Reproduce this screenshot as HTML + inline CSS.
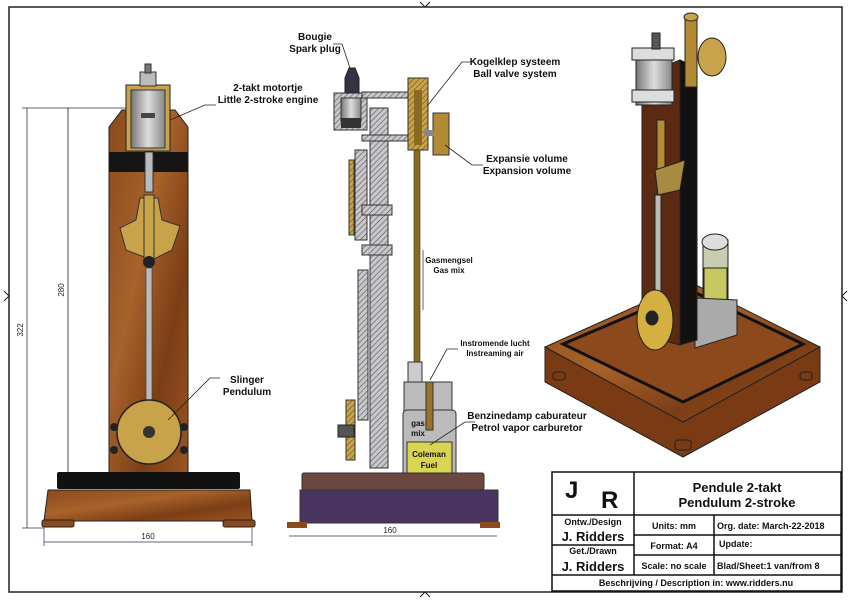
<!DOCTYPE html>
<html><head><meta charset="utf-8"><style>
html,body{margin:0;padding:0;background:#fff;}
svg{display:block;font-family:"Liberation Sans",sans-serif;}
.l{font-weight:bold;font-size:10px;fill:#111;}
.s{font-weight:bold;font-size:8px;fill:#111;}
.d{font-size:8px;fill:#222;}
</style></head><body>
<svg width="850" height="600" viewBox="0 0 850 600" xmlns="http://www.w3.org/2000/svg">
<defs>
<linearGradient id="wood" x1="0" y1="0" x2="1" y2="1">
<stop offset="0" stop-color="#8a4a1c"/><stop offset="0.4" stop-color="#a8622a"/><stop offset="0.7" stop-color="#7c3e16"/><stop offset="1" stop-color="#9a5522"/></linearGradient>
<linearGradient id="steel" x1="0" y1="0" x2="1" y2="0">
<stop offset="0" stop-color="#777"/><stop offset="0.5" stop-color="#ddd"/><stop offset="1" stop-color="#888"/></linearGradient>
<pattern id="hatch" width="4" height="4" patternUnits="userSpaceOnUse" patternTransform="rotate(45)">
<rect width="4" height="4" fill="#c8c8cc"/><line x1="0" y1="0" x2="0" y2="4" stroke="#555" stroke-width="1.2"/></pattern>
<pattern id="hatchg" width="4" height="4" patternUnits="userSpaceOnUse" patternTransform="rotate(45)">
<rect width="4" height="4" fill="#c9a34a"/><line x1="0" y1="0" x2="0" y2="4" stroke="#6b5016" stroke-width="1.2"/></pattern>
</defs>
<rect x="9" y="7" width="833" height="585" fill="none" stroke="#222" stroke-width="1.5"/>
<path d="M420 2 L425 7 L430 2 M420 597 L425 592 L430 597 M4 291 L9 296 L4 301 M847 291 L842 296 L847 301" fill="none" stroke="#222"/>

<!-- LEFT VIEW -->
<g>
<line x1="22" y1="108" x2="126" y2="108" stroke="#335" stroke-width="0.7"/>
<line x1="22" y1="528" x2="44" y2="528" stroke="#335" stroke-width="0.7"/>
<line x1="27" y1="108" x2="27" y2="528" stroke="#335" stroke-width="0.8"/>
<line x1="68" y1="108" x2="68" y2="472" stroke="#222" stroke-width="0.8"/>
<text class="d" transform="translate(23,330) rotate(-90)" text-anchor="middle">322</text>
<text class="d" transform="translate(64,290) rotate(-90)" text-anchor="middle">280</text>
<line x1="44" y1="542" x2="252" y2="542" stroke="#335" stroke-width="0.8"/>
<line x1="44" y1="528" x2="44" y2="546" stroke="#335" stroke-width="0.7"/>
<line x1="252" y1="528" x2="252" y2="546" stroke="#335" stroke-width="0.7"/>
<text class="d" x="148" y="539" text-anchor="middle">160</text>
<polygon points="109,127 122,110 175,110 188,127 188,474 109,474" fill="url(#wood)" stroke="#222"/>
<rect x="109" y="152" width="79" height="20" fill="#151515"/>
<rect x="126" y="85" width="44" height="66" fill="#c9a34a" stroke="#222"/>
<rect x="131" y="90" width="34" height="58" fill="url(#steel)" stroke="#333"/>
<rect x="141" y="113" width="14" height="5" fill="#444"/>
<rect x="140" y="72" width="16" height="14" fill="#bbb" stroke="#333"/>
<rect x="145" y="64" width="6" height="9" fill="#777" stroke="#333"/>
<rect x="145" y="152" width="8" height="40" fill="#bbb" stroke="#333"/>
<polygon points="140,198 158,198 162,220 180,226 172,250 152,260 126,250 120,228 136,220" fill="#c9a34a" stroke="#333"/>
<rect x="144" y="195" width="10" height="65" fill="#c9a34a" stroke="#333"/>
<circle cx="149" cy="262" r="6" fill="#222"/>
<rect x="146" y="268" width="6" height="135" fill="#bbb" stroke="#444" stroke-width="0.7"/>
<circle cx="149" cy="432" r="32" fill="#c9a34a" stroke="#222" stroke-width="1.5"/>
<circle cx="149" cy="432" r="6" fill="#333"/>
<circle cx="114" cy="427" r="4" fill="#222"/><circle cx="184" cy="427" r="4" fill="#222"/>
<circle cx="114" cy="450" r="4" fill="#222"/><circle cx="184" cy="450" r="4" fill="#222"/>
<rect x="57" y="472" width="183" height="17" fill="#111" rx="2"/>
<polygon points="48,490 250,490 252,521 44,521" fill="url(#wood)" stroke="#222"/>
<rect x="42" y="520" width="32" height="7" fill="#8a4a1c" stroke="#222" rx="2"/>
<rect x="223" y="520" width="32" height="7" fill="#8a4a1c" stroke="#222" rx="2"/>
<text class="l" x="268" y="91" text-anchor="middle">2-takt motortje</text>
<text class="l" x="268" y="103" text-anchor="middle">Little 2-stroke engine</text>
<polyline points="170,120 205,105 216,105" fill="none" stroke="#222" stroke-width="0.8"/>
<text class="l" x="247" y="383" text-anchor="middle">Slinger</text>
<text class="l" x="247" y="395" text-anchor="middle">Pendulum</text>
<polyline points="168,420 210,378 220,378" fill="none" stroke="#222" stroke-width="0.8"/>
</g>

<!-- MIDDLE VIEW -->
<g>
<rect x="370" y="108" width="18" height="360" fill="url(#hatch)" stroke="#333"/>
<rect x="355" y="150" width="12" height="90" fill="url(#hatch)" stroke="#333"/>
<rect x="358" y="270" width="10" height="150" fill="url(#hatch)" stroke="#333"/>
<rect x="349" y="160" width="5" height="75" fill="url(#hatchg)" stroke="#333"/>
<rect x="362" y="205" width="30" height="10" fill="url(#hatch)" stroke="#333"/>
<rect x="362" y="245" width="30" height="10" fill="url(#hatch)" stroke="#333"/>
<rect x="346" y="400" width="9" height="60" fill="url(#hatchg)" stroke="#333"/>
<rect x="338" y="425" width="16" height="12" fill="#555" stroke="#222"/>
<rect x="334" y="93" width="33" height="37" fill="url(#hatch)" stroke="#333"/>
<rect x="341" y="98" width="20" height="24" fill="url(#steel)" stroke="#333"/>
<rect x="341" y="118" width="20" height="10" fill="#333"/>
<polygon points="345,93 345,78 349,68 355,68 359,78 359,93" fill="#334" stroke="#222"/>
<rect x="362" y="92" width="50" height="6" fill="url(#hatch)" stroke="#333"/>
<rect x="362" y="135" width="50" height="6" fill="url(#hatch)" stroke="#333"/>
<rect x="408" y="78" width="20" height="72" fill="url(#hatchg)" stroke="#333"/>
<rect x="414" y="90" width="8" height="55" fill="#8a6a20"/>
<rect x="433" y="113" width="16" height="42" fill="#b58a35" stroke="#333"/>
<rect x="424" y="130" width="10" height="6" fill="#888"/>
<rect x="414" y="150" width="6" height="230" fill="#8a6a20" stroke="#333" stroke-width="0.6"/>
<line x1="423" y1="250" x2="423" y2="310" stroke="#222" stroke-width="0.7"/>
<rect x="404" y="382" width="48" height="30" fill="#bbb" stroke="#333"/>
<rect x="408" y="362" width="14" height="20" fill="#ccc" stroke="#333"/>
<rect x="403" y="410" width="53" height="80" fill="#bbb" stroke="#333" rx="4"/>
<rect x="407" y="442" width="45" height="46" fill="#d9d552" stroke="#333"/>
<rect x="426" y="382" width="7" height="48" fill="#9a7328" stroke="#333"/>
<text class="s" x="418" y="426" text-anchor="middle">gas</text>
<text class="s" x="418" y="436" text-anchor="middle">mix</text>
<text class="s" x="429" y="457" text-anchor="middle">Coleman</text>
<text class="s" x="429" y="468" text-anchor="middle">Fuel</text>
<rect x="302" y="473" width="182" height="17" fill="#6b4740" stroke="#333" rx="2"/>
<rect x="300" y="490" width="198" height="33" fill="#4a3560" stroke="#333"/>
<rect x="287" y="522" width="20" height="6" fill="#8a4a1c"/>
<rect x="480" y="522" width="20" height="6" fill="#8a4a1c"/>
<line x1="289" y1="536" x2="497" y2="536" stroke="#335" stroke-width="0.8"/>
<text class="d" x="390" y="533" text-anchor="middle">160</text>
<text class="l" x="315" y="40" text-anchor="middle">Bougie</text>
<text class="l" x="315" y="52" text-anchor="middle">Spark plug</text>
<polyline points="333,44 342,44 350,68" fill="none" stroke="#222" stroke-width="0.8"/>
<text class="l" x="515" y="65" text-anchor="middle">Kogelklep systeem</text>
<text class="l" x="515" y="77" text-anchor="middle">Ball valve system</text>
<polyline points="474,62 462,62 428,105" fill="none" stroke="#222" stroke-width="0.8"/>
<text class="l" x="527" y="162" text-anchor="middle">Expansie volume</text>
<text class="l" x="527" y="174" text-anchor="middle">Expansion volume</text>
<polyline points="483,165 472,165 445,145" fill="none" stroke="#222" stroke-width="0.8"/>
<text class="s" x="449" y="263" text-anchor="middle">Gasmengsel</text>
<text class="s" x="449" y="273" text-anchor="middle">Gas mix</text>
<text class="s" x="495" y="346" text-anchor="middle">Instromende lucht</text>
<text class="s" x="495" y="356" text-anchor="middle">Instreaming air</text>
<polyline points="458,349 447,349 430,380" fill="none" stroke="#222" stroke-width="0.8"/>
<text class="l" x="527" y="419" text-anchor="middle">Benzinedamp caburateur</text>
<text class="l" x="527" y="431" text-anchor="middle">Petrol vapor carburetor</text>
<polyline points="475,422 465,422 430,445" fill="none" stroke="#222" stroke-width="0.8"/>
</g>

<!-- RIGHT ISO VIEW -->
<g stroke="#222">
<polygon points="545,347 683,422 820,347 820,382 683,457 545,382" fill="#7a3a14"/>
<polygon points="545,347 690,282 820,347 683,422" fill="url(#wood)"/>
<polygon points="563,344 690,290 803,344 683,402" fill="#8c4a1c" stroke="#111" stroke-width="3"/>
<rect x="675" y="440" width="16" height="10" fill="#7a3a14" rx="3"/>
<rect x="553" y="372" width="12" height="8" fill="#7a3a14" rx="3"/>
<rect x="800" y="372" width="12" height="8" fill="#7a3a14" rx="3"/>
<rect x="703" y="240" width="25" height="60" fill="#c8ccb0"/>
<ellipse cx="715" cy="242" rx="13" ry="8" fill="#ddd"/>
<rect x="704" y="268" width="23" height="36" fill="#c8c860"/>
<polygon points="695,298 737,300 737,335 695,348" fill="#aaa"/>
<polygon points="642,75 680,60 680,345 642,335" fill="#5c2a12"/>
<polygon points="680,60 697,68 697,340 680,345" fill="#111"/>
<rect x="636" y="55" width="36" height="50" fill="url(#steel)"/>
<rect x="632" y="48" width="42" height="12" fill="#ddd"/>
<rect x="632" y="90" width="42" height="12" fill="#ddd"/>
<rect x="652" y="33" width="8" height="16" fill="#555"/>
<rect x="685" y="17" width="12" height="70" fill="#b58a35"/>
<ellipse cx="691" cy="17" rx="7" ry="4" fill="#c9a34a"/>
<ellipse cx="712" cy="57" rx="14" ry="19" fill="#c9a34a"/>
<rect x="657" y="120" width="8" height="70" fill="#b58a35"/>
<polygon points="655,170 685,160 680,190 658,195" fill="#a88a40"/>
<rect x="655" y="195" width="6" height="110" fill="#bbb"/>
<ellipse cx="655" cy="320" rx="18" ry="30" fill="#d4b040"/>
<ellipse cx="652" cy="318" rx="6" ry="7" fill="#222"/>
</g>

<!-- TITLE BLOCK -->
<g stroke="#111" stroke-width="1.5" fill="none">
<rect x="552" y="472" width="289" height="119" fill="#fff"/>
<line x1="552" y1="515" x2="841" y2="515"/>
<line x1="634" y1="472" x2="634" y2="575"/>
<line x1="714" y1="515" x2="714" y2="575"/>
<line x1="634" y1="535" x2="841" y2="535"/>
<line x1="634" y1="555" x2="841" y2="555"/>
<line x1="552" y1="545" x2="634" y2="545"/>
<line x1="552" y1="575" x2="841" y2="575"/>
</g>
<g font-weight="bold" fill="#111">
<text x="565" y="498" font-size="24">J</text>
<text x="601" y="508" font-size="24">R</text>
<text x="737" y="492" font-size="13" text-anchor="middle">Pendule 2-takt</text>
<text x="737" y="507" font-size="13" text-anchor="middle">Pendulum 2-stroke</text>
<text x="593" y="525" font-size="9" text-anchor="middle">Ontw./Design</text>
<text x="593" y="541" font-size="13" text-anchor="middle">J. Ridders</text>
<text x="593" y="554" font-size="9" text-anchor="middle">Get./Drawn</text>
<text x="593" y="571" font-size="13" text-anchor="middle">J. Ridders</text>
<text x="674" y="529" font-size="9" text-anchor="middle">Units: mm</text>
<text x="674" y="549" font-size="9" text-anchor="middle">Format: A4</text>
<text x="674" y="569" font-size="9" text-anchor="middle">Scale: no scale</text>
<text x="717" y="529" font-size="9">Org. date: March-22-2018</text>
<text x="719" y="547" font-size="9">Update:</text>
<text x="717" y="569" font-size="9">Blad/Sheet:1 van/from 8</text>
<text x="696" y="586" font-size="9" text-anchor="middle">Beschrijving / Description in:  www.ridders.nu</text>
</g>
</svg>
</body></html>
